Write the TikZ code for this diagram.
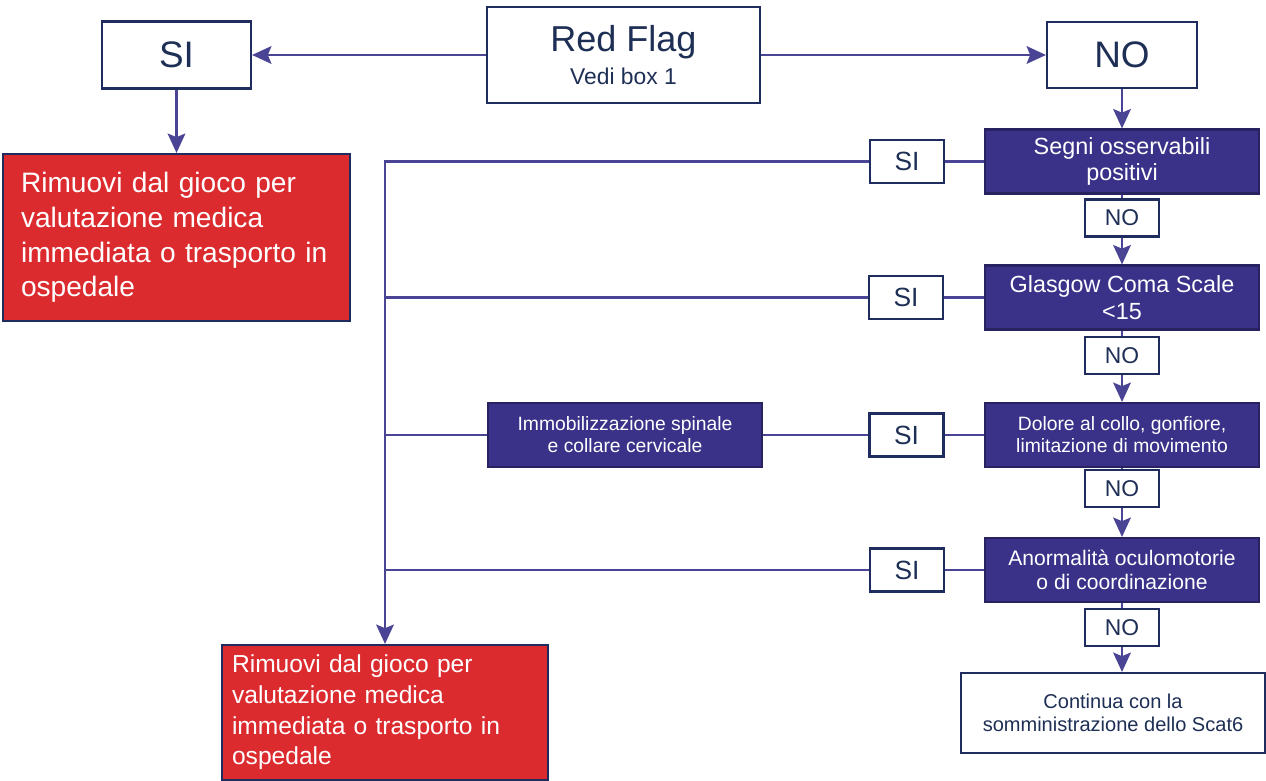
\documentclass[tikz,border=0pt]{standalone}
\usepackage{fontspec}
\setmainfont{Liberation Sans}
\usetikzlibrary{arrows.meta}

\definecolor{navy}{HTML}{3A3189}
\definecolor{flow}{HTML}{4A4495}
\definecolor{edge}{HTML}{1F2D5E}
\definecolor{ink}{HTML}{1E2F55}
\definecolor{alarm}{HTML}{DC2B2F}

\begin{document}
\begin{tikzpicture}[x=0.02cm,y=-0.02cm,
    box/.style={draw=edge,line width=1.2pt,fill=white,text=ink,align=center,inner sep=0pt},
    check/.style={box,fill=navy,draw=navy!70!black,text=white,minimum width=5.48cm,minimum height=1.28cm,font=\fontsize{13.3}{15.3}\selectfont},
    sibox/.style={box,minimum width=1.48cm,minimum height=0.86cm,font=\fontsize{15}{15}\selectfont},
    nobox/.style={box,minimum width=1.48cm,minimum height=0.74cm,font=\fontsize{13}{13}\selectfont},
    removebox/.style={box,fill=alarm,text=white,align=left},
    flowline/.style={draw=flow,line width=1.5pt},
    flowarrow/.style={flowline,-{Stealth[length=11pt,width=10pt,inset=2pt]}}]

\useasboundingbox (0,0) rectangle (1266,780);

% Top row
\node[box,minimum width=5.46cm,minimum height=1.92cm] (redflag) at (623.5,55) {{\fontsize{20.5}{22}\selectfont Red Flag}\\[4pt]{\fontsize{13}{15}\selectfont Vedi box 1}};
\node[box,minimum width=2.98cm,minimum height=1.34cm,font=\fontsize{21}{21}\selectfont] (siTop) at (176.5,55) {SI};
\node[box,minimum width=3cm,minimum height=1.32cm,font=\fontsize{21}{21}\selectfont] (noTop) at (1122,55) {NO};

% Removal boxes
\node[removebox,minimum width=6.94cm,minimum height=3.34cm,text width=6.22cm,inner xsep=0.36cm,font=\fontsize{16}{19.8}\selectfont] (removeA) at (176.5,237.5) {Rimuovi dal gioco per\\valutazione medica\\immediata o trasporto in\\ospedale};
\node[removebox,minimum width=6.52cm,minimum height=2.7cm,text width=6.12cm,inner xsep=0.2cm,font=\fontsize{14}{17.5}\selectfont] (removeB) at (385,712.5) {Rimuovi dal gioco per\\valutazione medica\\immediata o trasporto in\\ospedale};

% Checks
\node[check] (segni) at (1122,161.5) {Segni osservabili\\positivi};
\node[check] (glasgow) at (1122,297.5) {Glasgow Coma Scale\\<15};
\node[check,font=\fontsize{11}{12.5}\selectfont] (dolore) at (1122,435) {Dolore al collo, gonfiore,\\limitazione di movimento};
\node[check,font=\fontsize{12}{14}\selectfont] (anorm) at (1122,570) {Anormalità oculomotorie\\o di coordinazione};
\node[check,font=\fontsize{11}{12.5}\selectfont] (immob) at (625,435) {Immobilizzazione spinale\\e collare cervicale};
\node[box,minimum width=6.08cm,minimum height=1.6cm,font=\fontsize{11.4}{13}\selectfont] (continua) at (1113,713) {Continua con la\\somministrazione dello Scat6};

% Answers
\node[sibox] (si1) at (907,161.5) {SI};
\node[sibox] (si2) at (906,297.5) {SI};
\node[sibox] (si3) at (906.5,435) {SI};
\node[sibox] (si4) at (907,570) {SI};
\node[nobox] (no1) at (1122,218) {NO};
\node[nobox] (no2) at (1122,355.5) {NO};
\node[nobox] (no3) at (1122,488.5) {NO};
\node[nobox] (no4) at (1122,627.5) {NO};

% Edges
\draw[flowarrow] (redflag) -- (siTop);
\draw[flowarrow] (redflag) -- (noTop);
\draw[flowarrow] (siTop) -- (removeA);
\draw[flowarrow] (noTop) -- (segni);
\draw[flowline] (segni) -- (no1);
\draw[flowarrow] (no1) -- (glasgow);
\draw[flowline] (glasgow) -- (no2);
\draw[flowarrow] (no2) -- (dolore);
\draw[flowline] (dolore) -- (no3);
\draw[flowarrow] (no3) -- (anorm);
\draw[flowline] (anorm) -- (no4);
\draw[flowarrow] (no4) -- (no4 |- continua.north);

\draw[flowline] (segni) -- (si1);
\draw[flowarrow] (si1) -| (removeB);
\draw[flowline] (glasgow) -- (si2);
\draw[flowline] (si2) -- (si2 -| removeB);
\draw[flowline] (dolore) -- (si3);
\draw[flowline] (si3) -- (immob);
\draw[flowline] (immob) -- (immob -| removeB);
\draw[flowline] (anorm) -- (si4);
\draw[flowline] (si4) -- (si4 -| removeB);
\end{tikzpicture}
\end{document}
